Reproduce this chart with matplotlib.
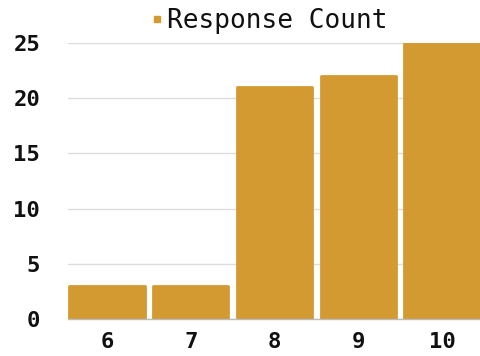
import matplotlib
matplotlib.use("Agg")
import matplotlib.pyplot as plt
from matplotlib.lines import Line2D

categories = ["6", "7", "8", "9", "10"]
counts = [3, 3, 21, 22, 25]
y_ticks = [0, 5, 10, 15, 20, 25]

bar_color = "#D39A32"
text_color = "#111111"
mono = ["DejaVu Sans Mono"]

fig = plt.figure(figsize=(4.8, 3.56), dpi=100)
ax = fig.add_axes([68 / 480, 1 - 319 / 356, 1 - 68 / 480, (319 - 43) / 356])

x = list(range(len(categories)))
# thin same-colour edge with round joins softens the bar corners
ax.bar(x, counts, width=0.9, color=bar_color, edgecolor=bar_color,
       linewidth=2.0, joinstyle="round", zorder=3)

ax.set_xlim(-0.466, 4.455)
ax.set_ylim(0, 25)
ax.set_yticks(y_ticks)
ax.set_xticks(x)
ax.set_xticklabels(categories)
ax.grid(axis="y", color="#dddddd", linewidth=1, zorder=0)
ax.tick_params(axis="both", length=0, colors=text_color)
ax.tick_params(axis="y", pad=20)
ax.tick_params(axis="x", pad=9)
for lbl in ax.get_xticklabels() + ax.get_yticklabels():
    lbl.set_fontfamily(mono)
    lbl.set_fontweight("bold")
    lbl.set_fontsize(16)
for side in ("top", "right", "left"):
    ax.spines[side].set_visible(False)
ax.spines["bottom"].set_color("#bbbbbb")
ax.spines["bottom"].set_linewidth(1)
ax.spines["bottom"].set_zorder(4)

handle = Line2D([], [], marker="s", linestyle="none", markersize=3.8,
                color=bar_color)
leg = ax.legend([handle], ["Response Count"], loc="center",
                bbox_to_anchor=(0.49, 1.081), frameon=False,
                handlelength=0.4, handletextpad=0.2, borderpad=0,
                prop={"family": mono, "weight": "normal", "size": 18.8})
for t in leg.get_texts():
    t.set_color(text_color)

fig.savefig("out.png", dpi=100)
